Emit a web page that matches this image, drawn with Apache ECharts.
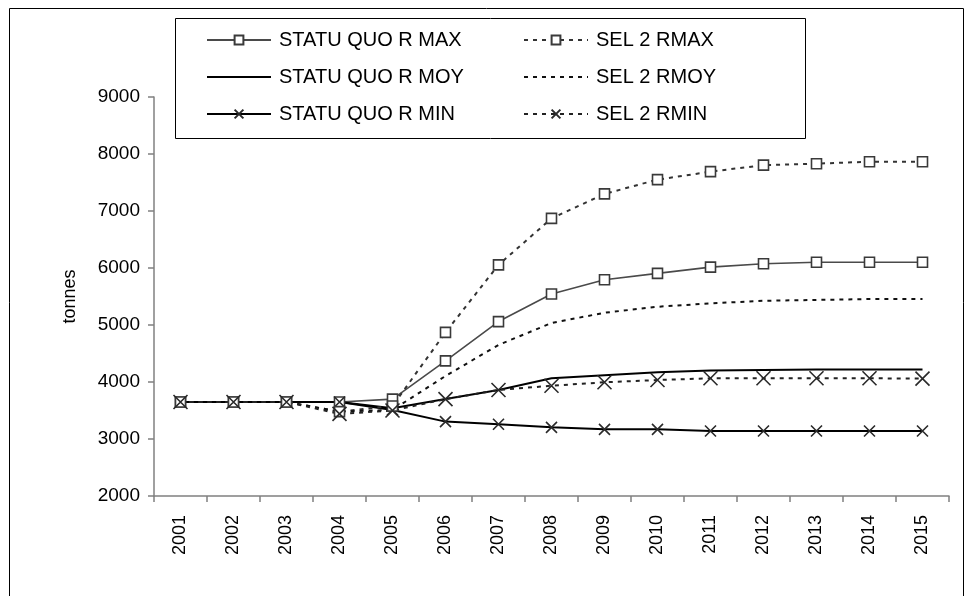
<!DOCTYPE html>
<html><head><meta charset="utf-8">
<script src="https://cdn.jsdelivr.net/npm/echarts@6/dist/echarts.min.js"></script>
<style>html,body{margin:0;padding:0;background:#fff}#c{width:972px;height:596px}</style>
</head><body><div id="c"></div>
<script>
const years = ['2001','2002','2003','2004','2005','2006','2007','2008','2009','2010','2011','2012','2013','2014','2015'];
const sqMax  = [3650,3650,3650,3650,3700,4370,5060,5545,5795,5905,6015,6075,6100,6100,6100];
const sqMoy  = [3650,3650,3650,3650,3540,3700,3860,4065,4120,4170,4200,4210,4220,4220,4220];
const sqMin  = [3650,3650,3650,3650,3510,3305,3258,3205,3170,3170,3140,3140,3140,3140,3140];
const selMax = [3650,3650,3650,3480,3580,4870,6055,6870,7300,7550,7690,7805,7830,7865,7865];
const selMoy = [3650,3650,3650,3480,3510,4105,4650,5035,5215,5320,5380,5425,5440,5455,5455];
const selMin = [3650,3650,3650,3440,3500,3700,3860,3935,3995,4035,4065,4065,4065,4065,4060];
const names = ['STATU QUO R MAX','STATU QUO R MOY','STATU QUO R MIN','SEL 2 RMAX','SEL 2 RMOY','SEL 2 RMIN'];
const FONT = '"Liberation Sans", Arial, sans-serif';
const XSYM = 'path://M0,0L10,10M10,0L0,10';

function mk(name, data, opts) {
  return Object.assign({
    name, type: 'line', data, animation: false, smooth: false,
    showSymbol: true
  }, opts);
}
const sqW = 2, selW = 2;
const series = [
  mk(names[0], sqMax, {symbol:'rect', symbolSize:10,
    lineStyle:{color:'#4a4a4a', width:1.6},
    itemStyle:{color:'#ffffff', borderColor:'#3a3a3a', borderWidth:1.6}}),
  mk(names[1], sqMoy, {symbol:'none',
    lineStyle:{color:'#000', width:sqW}, itemStyle:{color:'#000'}}),
  mk(names[2], sqMin, {symbol:XSYM, symbolSize:11,
    lineStyle:{color:'#000', width:sqW},
    itemStyle:{color:'none', borderColor:'#2a2a2a', borderWidth:1.6}}),
  mk(names[3], selMax, {symbol:'rect', symbolSize:10,
    lineStyle:{color:'#333', width:selW, type:[4,5]},
    itemStyle:{color:'#ffffff', borderColor:'#3a3a3a', borderWidth:1.6}}),
  mk(names[4], selMoy, {symbol:'none',
    lineStyle:{color:'#111', width:selW, type:[4,5]}, itemStyle:{color:'#111'}}),
  mk(names[5], selMin, {symbol:XSYM, symbolSize:14,
    lineStyle:{color:'#222', width:selW, type:[4,5]},
    itemStyle:{color:'none', borderColor:'#2a2a2a', borderWidth:1.6}})
];

function legendItems(list) {
  return list.map(n => (n.indexOf('MOY') >= 0)
    ? {name:n, itemStyle:{opacity:0, borderWidth:0}}
    : {name:n});
}

const chart = echarts.init(document.getElementById('c'), null, {renderer:'canvas'});
const legendCommon = {
  orient:'vertical', itemWidth:64, itemHeight:11, itemGap:17,
  textStyle:{fontFamily:FONT, fontSize:20, color:'#000', padding:[0,0,0,3]},
  selectedMode:false
};
chart.setOption({
  backgroundColor:'#fff',
  textStyle:{fontFamily:FONT},
  graphic:[
    {type:'rect', shape:{x:9.5,y:8.5,width:954,height:600}, style:{fill:'none', stroke:'#000', lineWidth:1}, silent:true, z:-10},
    {type:'rect', shape:{x:175.5,y:18.5,width:630,height:120}, style:{fill:'#fff', stroke:'#000', lineWidth:1}, silent:true, z:5}
  ],
  legend:[
    Object.assign({}, legendCommon, {left:201, top:25, data:legendItems(names.slice(0,3)), z:10}),
    Object.assign({}, legendCommon, {left:518, top:25, data:legendItems(names.slice(3,6)), z:10})
  ],
  grid:{left:154, right:23, top:97, bottom:100, containLabel:false},
  xAxis:{
    type:'category', data:years, boundaryGap:true,
    axisLine:{lineStyle:{color:'#808080', width:1.5}},
    axisTick:{show:true, length:6, inside:false, alignWithLabel:false, lineStyle:{color:'#808080', width:1.5}},
    axisLabel:{rotate:90, margin:19, fontSize:18, color:'#000', fontFamily:FONT, interval:0}
  },
  yAxis:{
    type:'value', min:2000, max:9000, interval:1000,
    name:'tonnes', nameLocation:'middle', nameRotate:90, nameGap:75,
    nameTextStyle:{fontSize:18, color:'#000', fontFamily:FONT},
    axisLine:{show:true, lineStyle:{color:'#808080', width:1.5}},
    axisTick:{show:true, length:6, inside:false, lineStyle:{color:'#808080', width:1.5}},
    splitLine:{show:false},
    axisLabel:{margin:14, fontSize:19, color:'#000', fontFamily:FONT, formatter: v => String(v)}
  },
  series
});
</script></body></html>
